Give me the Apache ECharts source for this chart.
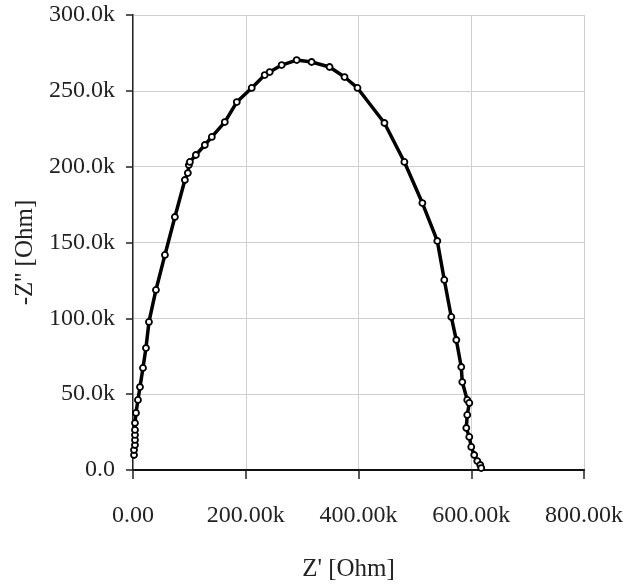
<!DOCTYPE html>
<html>
<head>
<meta charset="utf-8">
<script src="https://cdn.jsdelivr.net/npm/echarts@6/dist/echarts.min.js"></script>
<style>
html,body{margin:0;padding:0;background:#fff;}
#chart{width:626px;height:587px;}
</style>
</head>
<body>
<div id="chart"></div>
<script>
// Z' (real part, Ohm)
const zReal = [1800, 1800, 3500, 3500, 3500, 3500, 3500, 5300, 8800, 12400, 17700, 23000, 28300, 40700, 56600, 74300, 92000, 97300, 99100, 100900, 111500, 127400, 139800, 162800, 184100, 210600, 233600, 242500, 263700, 290300, 316800, 348700, 375200, 398200, 446000, 481400, 513300, 539800, 552200, 564600, 573500, 582300, 584100, 592900, 596500, 592900, 591200, 596500, 600000, 605300, 610700, 616000, 617700];
// -Z'' (imaginary part, Ohm)
const zImag = [9900, 13200, 16500, 19800, 23100, 26400, 31000, 37600, 46200, 54700, 67300, 80400, 97600, 118700, 141800, 166800, 191200, 195800, 201100, 203100, 207700, 214300, 219600, 229400, 242600, 251900, 260400, 262400, 267000, 270300, 269000, 265700, 259100, 251900, 228800, 203100, 176000, 151000, 125300, 100900, 85700, 67900, 58000, 46200, 44200, 36300, 27700, 21800, 15200, 9900, 5900, 3300, 1300];
// axis ticks
const xTicks = [0, 200000, 400000, 600000, 800000];
const yTicks = [0, 50000, 100000, 150000, 200000, 250000, 300000];

const FONT = '"Liberation Serif", "DejaVu Serif", serif';
const points = zReal.map((x, i) => [x, zImag[i]]);

const xFmt = v => v === 0 ? '0.00' : (v / 1000).toFixed(2) + 'k';
const yFmt = v => v === 0 ? '0.0' : (v / 1000).toFixed(1) + 'k';

const xBase = {type: 'value', min: xTicks[0], max: xTicks[xTicks.length - 1], interval: xTicks[1] - xTicks[0]};
const yBase = {type: 'value', min: yTicks[0], max: yTicks[yTicks.length - 1], interval: yTicks[1] - yTicks[0]};

const chart = echarts.init(document.getElementById('chart'), null, {renderer: 'canvas'});
chart.setOption({
  animation: false,
  backgroundColor: '#fff',
  grid: {left: 133, right: 41, top: 15, bottom: 117, containLabel: false},
  xAxis: [
    Object.assign({}, xBase, {
      position: 'bottom',
      name: "Z' [Ohm]",
      nameLocation: 'middle',
      nameGap: 87,
      nameTextStyle: {fontFamily: FONT, fontSize: 25, color: '#222', padding: [0, 20, 0, 0]},
      axisLine: {show: true, lineStyle: {color: '#555', width: 2}},
      axisTick: {show: false},
      axisLabel: {show: false},
      splitLine: {show: true, lineStyle: {color: '#cfcfcf', width: 1}}
    }),
    Object.assign({}, xBase, {
      position: 'bottom',
      offset: 5,
      axisLine: {show: false},
      axisTick: {show: true, length: 9, lineStyle: {color: '#222', width: 1.5}},
      axisLabel: {show: true, margin: 29, fontFamily: FONT, fontSize: 24, color: '#222', formatter: xFmt},
      splitLine: {show: false}
    }),
    Object.assign({}, xBase, {
      position: 'top',
      axisLine: {show: true, lineStyle: {color: '#111', width: 2}},
      axisTick: {show: false},
      axisLabel: {show: false},
      splitLine: {show: false}
    })
  ],
  yAxis: [
    Object.assign({}, yBase, {
      position: 'left',
      name: "-Z'' [Ohm]",
      nameLocation: 'middle',
      nameGap: 95,
      nameRotate: 90,
      nameTextStyle: {fontFamily: FONT, fontSize: 25, color: '#222', padding: [0, 20, 0, 0]},
      axisLine: {show: true, lineStyle: {color: '#222', width: 2}},
      axisTick: {show: false},
      axisLabel: {show: false},
      splitLine: {show: true, lineStyle: {color: '#cfcfcf', width: 1}}
    }),
    Object.assign({}, yBase, {
      position: 'left',
      offset: 5,
      axisLine: {show: false},
      axisTick: {show: true, length: 7, lineStyle: {color: '#222', width: 1.5}},
      axisLabel: {show: true, margin: 13, fontFamily: FONT, fontSize: 24, color: '#222', formatter: yFmt},
      splitLine: {show: false}
    }),
    Object.assign({}, yBase, {
      position: 'right',
      axisLine: {show: true, lineStyle: {color: '#888', width: 1}},
      axisTick: {show: false},
      axisLabel: {show: false},
      splitLine: {show: false}
    })
  ],
  series: [{
    type: 'line',
    xAxisIndex: 0,
    yAxisIndex: 0,
    data: points,
    smooth: false,
    lineStyle: {color: '#000', width: 3.5},
    symbol: 'circle',
    symbolSize: 6,
    itemStyle: {color: '#fff', borderColor: '#000', borderWidth: 1.8},
    emphasis: {disabled: true}
  }]
});
</script>
</body>
</html>
